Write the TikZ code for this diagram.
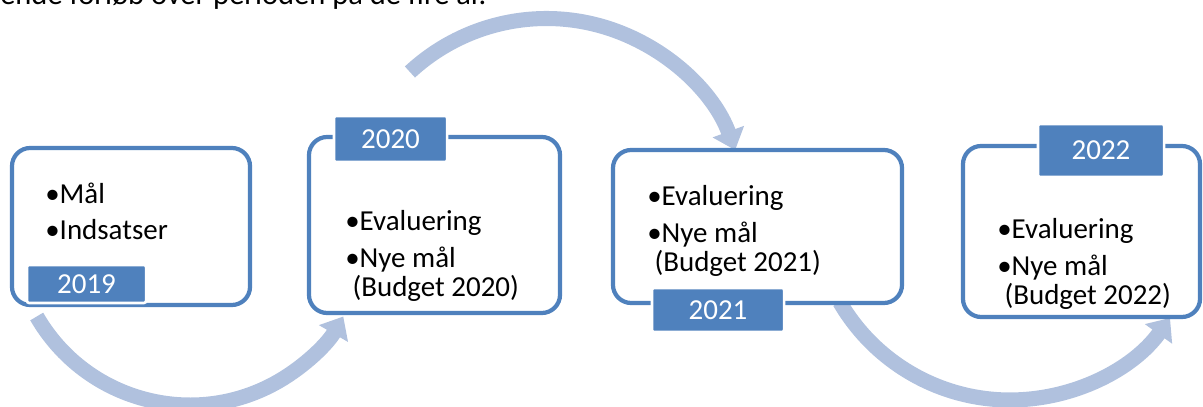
\documentclass[tikz,border=0pt]{standalone}
\usepackage{fontspec}
\setmainfont{Carlito}
\usetikzlibrary{arrows.meta}
\definecolor{boxblue}{HTML}{4F81BD}
\definecolor{arcblue}{HTML}{B0C1DE}
\begin{document}
\begin{tikzpicture}[x=0.025cm, y=0.025cm,
    yearbox/.style={draw=boxblue, line width=3pt, fill=white, rounded corners=13pt},
    yeartag/.style={draw=white, line width=1.8pt, fill=boxblue, rounded corners=1.5pt, text=white, font=\fontsize{20.6}{21.3}\selectfont},
    items/.style={align=left, inner sep=0pt, font=\fontsize{20.6}{21.3}\selectfont},
    yeararc/.style={draw=arcblue, line width=10.7pt, -{Triangle[width=23pt, length=14pt]}}]
    \useasboundingbox (0,0) rectangle (1203,407);
    \clip (0,0) rectangle (1203,407);
    % text above, cut by the page
    \node [anchor=base west, inner sep=0pt, font=\fontsize{21.7}{26}\selectfont] (intro) at (0,402) {ende forløb over perioden på de fire år.};
    % arcs between the years
    \coordinate (c1) at (190,179);
    \coordinate (c2) at (546.5,187.5);
    \coordinate (c3) at (1010,204);
    \draw [yeararc] ([shift={(210:177)}]c1) arc [start angle=210, end angle=330, radius=177];
    \draw [yeararc] ([shift={(132.8:201)}]c2) arc [start angle=132.8, end angle=20.2, radius=201];
    \draw [yeararc] ([shift={(210.2:197)}]c3) arc [start angle=210.2, end angle=324.3, radius=197];
    % boxes
    \node [yearbox, minimum width=5.95cm, minimum height=3.925cm] (b2019) at (131,180.5) {};
    \node [yearbox, minimum width=6.275cm, minimum height=4.4cm] (b2020) at (434.5,182) {};
    \node [yearbox, minimum width=7.225cm, minimum height=3.825cm] (b2021) at (757.5,180.5) {};
    \node [yearbox, minimum width=5.925cm, minimum height=4.275cm] (b2022) at (1081.5,175.5) {};
    % year tags
    \node [yeartag, minimum width=2.975cm, minimum height=0.95cm] (y2019) at (86.5,123) {2019};
    \node [yeartag, minimum width=2.825cm, minimum height=1.15cm] (y2020) at (390.5,268) {2020};
    \node [yeartag, minimum width=3.3cm, minimum height=1.1cm] (y2021) at (718,97) {2021};
    \node [yeartag, minimum width=3.15cm, minimum height=1.325cm] (y2022) at (1101,256.5) {2022};
    % bullet text (base = last line)
    \node [items, anchor=base west] (t2019) at (45,167) {•Mål\\[5pt]•Indsatser};
    \node [items, anchor=base west] (t2020) at (345,110) {•Evaluering\\[5pt]•Nye mål\\\hspace*{.25em}(Budget 2020)};
    \node [items, anchor=base west] (t2021) at (647,135) {•Evaluering\\[5pt]•Nye mål\\\hspace*{.25em}(Budget 2021)};
    \node [items, anchor=base west] (t2022) at (997,102) {•Evaluering\\[5pt]•Nye mål\\\hspace*{.25em}(Budget 2022)};
\end{tikzpicture}
\end{document}
